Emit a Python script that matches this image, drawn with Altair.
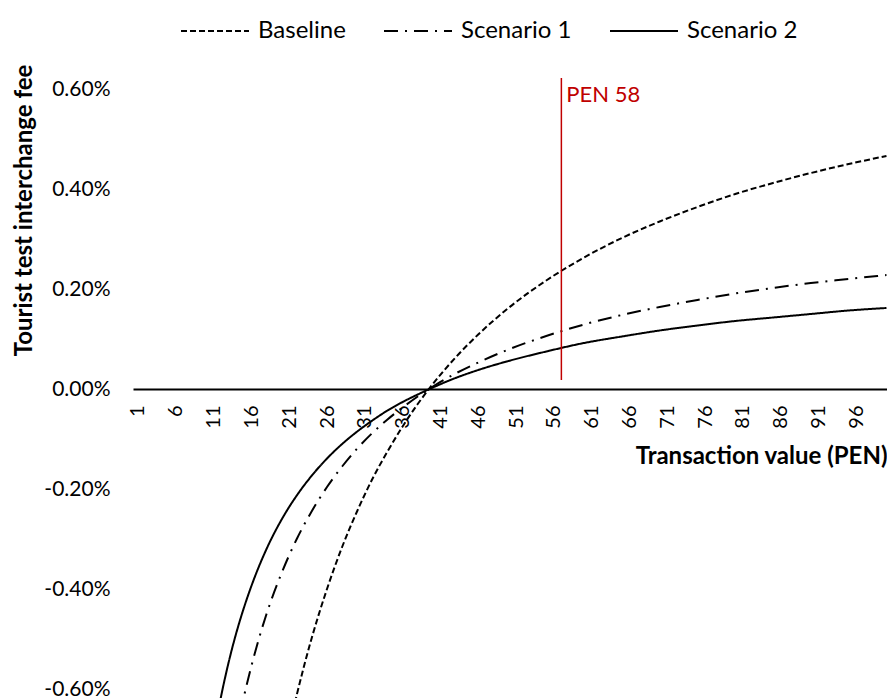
import altair as alt
import pandas as pd

# ---- data (values in percent) ----
series_names = ["Baseline", "Scenario 1", "Scenario 2"]

x_base = [20, 21, 22, 23, 24, 26, 28, 30, 32, 34, 36, 38, 40, 43, 46, 50,
          55, 60, 65, 70, 75, 80, 85, 90, 95, 100]
y_base = [-0.751, -0.678, -0.612, -0.552, -0.497, -0.400, -0.316, -0.244,
          -0.180, -0.125, -0.075, -0.030, 0.010, 0.063, 0.109, 0.162,
          0.217, 0.263, 0.302, 0.335, 0.364, 0.390, 0.412, 0.432, 0.450, 0.466]

x_s1 = [13, 14, 15, 16, 17, 18, 20, 22, 24, 26, 28, 30, 32, 34, 36, 38, 40,
        43, 46, 50, 55, 60, 65, 70, 75, 80, 85, 90, 95, 100]
y_s1 = [-0.768, -0.687, -0.616, -0.554, -0.499, -0.450, -0.368, -0.300,
        -0.244, -0.196, -0.155, -0.119, -0.088, -0.061, -0.037, -0.015, 0.005,
        0.031, 0.053, 0.079, 0.106, 0.129, 0.148, 0.164, 0.178, 0.191, 0.202,
        0.212, 0.220, 0.228]

x_s2 = [10, 11, 12, 13, 14, 15, 16, 18, 20, 22, 24, 26, 28, 30, 32, 34, 36,
        38, 40, 43, 46, 50, 55, 60, 65, 70, 75, 80, 85, 90, 95, 100]
y_s2 = [-0.791, -0.694, -0.614, -0.546, -0.488, -0.438, -0.394, -0.320,
        -0.261, -0.213, -0.173, -0.139, -0.110, -0.085, -0.063, -0.043,
        -0.026, -0.011, 0.003, 0.022, 0.038, 0.056, 0.075, 0.092, 0.105,
        0.117, 0.127, 0.136, 0.143, 0.150, 0.157, 0.162]

x_tick_values = [1, 6, 11, 16, 21, 26, 31, 36, 41, 46, 51, 56, 61, 66, 71,
                 76, 81, 86, 91, 96]
y_tick_values = [-0.6, -0.4, -0.2, 0.0, 0.2, 0.4, 0.6]

marker_x = [57]
marker_y_low = [0.018]
marker_y_high = [0.622]
marker_label = ["PEN 58"]
marker_label_y = [0.589]

# ---- tables ----
rows = []
for name, xs, ys in zip(series_names, [x_base, x_s1, x_s2], [y_base, y_s1, y_s2]):
    for xv, yv in zip(xs, ys):
        rows.append({"series": name, "x": xv, "y": yv})
df = pd.DataFrame(rows)

marker_df = pd.DataFrame({"x": marker_x, "y": marker_y_low, "y2": marker_y_high})
label_df = pd.DataFrame({"x": marker_x, "y": marker_label_y, "t": marker_label})

W, H = 754, 628
Y_MAX = 0.63
Y_MIN = Y_MAX - H / 500.0
zero_px = Y_MAX * 500.0

x_scale = alt.Scale(domain=[0.34, 100.07], nice=False, zero=False)
y_scale = alt.Scale(domain=[Y_MIN, Y_MAX], nice=False, zero=False)

x_axis = alt.Axis(
    values=x_tick_values, format="d", labelAngle=270, labelFontSize=20,
    labelColor="black", labelPadding=16, labelOverlap=False, labelFlush=False,
    labelBound=False, ticks=False, tickSize=0, grid=False,
    domainColor="black", domainWidth=2,
    offset=-(H - zero_px),
    title="Transaction value (PEN)", titleFontSize=24, titleFontWeight="bold",
    titleColor="black", titleX=W, titleY=67, titleAlign="right",
    titleAnchor="end", titleBaseline="middle",
)
y_axis = alt.Axis(
    values=y_tick_values, domain=False, ticks=False, tickSize=0, grid=False,
    labelOverlap=False,
    labelExpr="(datum.value < 0 ? '-' : '') + format(abs(datum.value), '.2f') + '%'",
    labelFontSize=21, labelColor="black", labelPadding=23,
    title="Tourist test interchange fee", titleFontSize=24,
    titleFontWeight="bold", titleColor="black", titleX=-109, titleY=136,
    titleAngle=270, titleAlign="center", titleBaseline="middle",
)

X = alt.X("x:Q", scale=x_scale, axis=x_axis)
Y = alt.Y("y:Q", scale=y_scale, axis=y_axis)

lines = alt.Chart(df).mark_line(
    color="black", strokeWidth=2, clip=True, interpolate="monotone"
).encode(
    x=X,
    y=Y,
    strokeDash=alt.StrokeDash(
        "series:N",
        scale=alt.Scale(domain=series_names, range=[[6, 3], [14, 7, 2, 7], [1, 0]]),
        legend=alt.Legend(
            orient="none", legendX=47, legendY=-78, direction="horizontal",
            columns=3, title=None, symbolType="stroke", symbolSize=4624,
            symbolStrokeWidth=2, symbolStrokeColor="black",
            labelFontSize=24, labelColor="black", labelOffset=8,
            columnPadding=34, padding=0,
        ),
    ),
)

rule = alt.Chart(marker_df).mark_rule(color="#C00000", strokeWidth=1.5).encode(
    x=X,
    y=Y,
    y2="y2:Q",
)

label = alt.Chart(label_df).mark_text(
    align="left", baseline="middle", dx=5, fontSize=22, color="#C00000"
).encode(
    x=X,
    y=Y,
    text="t:N",
)

chart = alt.layer(lines, rule, label).properties(
    width=W, height=H,
    autosize=alt.AutoSizeParams(type="none"),
    padding={"left": 125, "top": 66, "right": 0, "bottom": 20},
).configure(font="Lato").configure_view(stroke=None)

chart.save("out.html", embed_options={"renderer": "svg", "actions": False})
